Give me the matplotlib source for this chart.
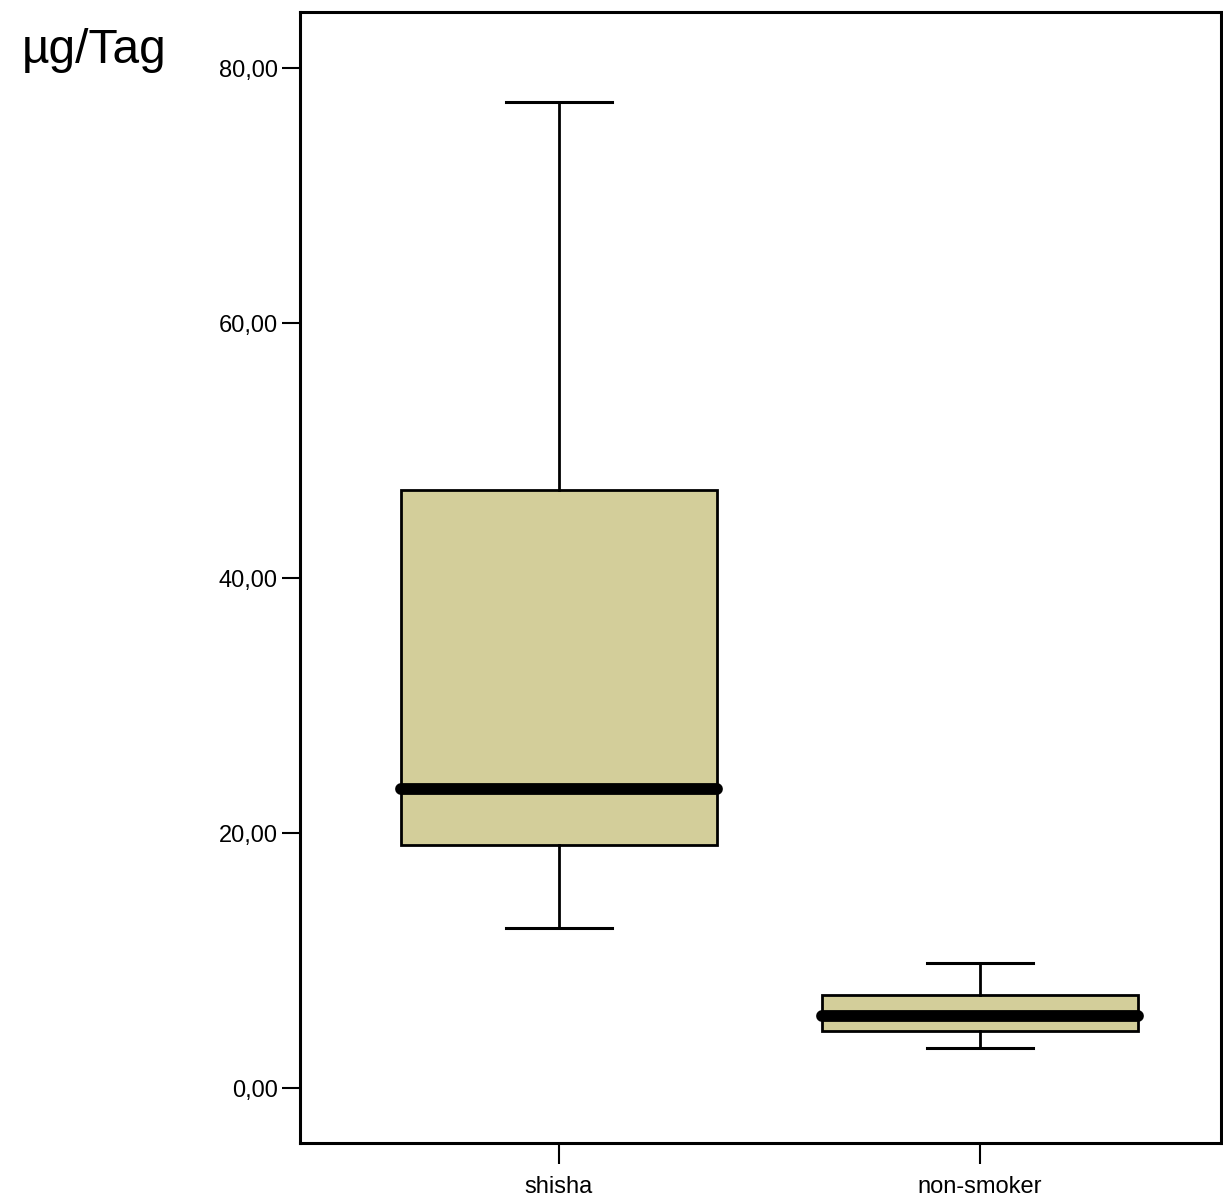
import matplotlib
matplotlib.use('Agg')
import matplotlib.pyplot as plt
from matplotlib import font_manager

# group values (µg/Tag)
groups = ['shisha', 'non-smoker']
whislo = [12.55, 3.15]
q1 = [19.05, 4.45]
med = [23.45, 5.65]
q3 = [46.95, 7.3]
whishi = [77.35, 9.8]
yticks = [0, 20, 40, 60, 80]

names = {f.name for f in font_manager.fontManager.ttflist}
narrow = 'Liberation Sans Narrow' if 'Liberation Sans Narrow' in names else 'Liberation Sans'

stats = []
for i, g in enumerate(groups):
    stats.append({'label': g, 'whislo': whislo[i], 'q1': q1[i], 'med': med[i],
                  'q3': q3[i], 'whishi': whishi[i], 'fliers': []})

fig = plt.figure(figsize=(12.23, 12.03), dpi=100)
ax = fig.add_axes([300/1223, 60/1203, 921/1223, 1131/1203])

ax.bxp(stats, positions=[1, 2], widths=0.75, patch_artist=True,
       boxprops=dict(facecolor='#d3ce9a', edgecolor='black', linewidth=2),
       medianprops=dict(color='black', linewidth=8.5, solid_capstyle='round'),
       whiskerprops=dict(color='black', linewidth=2),
       capprops=dict(color='black', linewidth=2.2),
       capwidths=0.25)

ax.set_xlim(0.385, 2.572)
ax.set_ylim(-4.3, 84.4)
ax.set_yticks(yticks)
ax.set_yticklabels(['%d,00' % v for v in yticks])
ax.set_xticks([1, 2])
ax.set_xticklabels(groups)

for s in ax.spines.values():
    s.set_linewidth(2.2)
ax.tick_params(axis='y', direction='out', length=13, width=1.5, pad=3)
ax.tick_params(axis='x', direction='out', length=15, width=1.5, pad=9)
fs = 19 if narrow != 'Liberation Sans' else 17
for lab in ax.get_yticklabels() + ax.get_xticklabels():
    lab.set_fontfamily(narrow)
    lab.set_fontsize(fs)

fig.text(22/1223, 1 - 63/1203, 'µg/Tag', fontsize=34.5, family='Liberation Sans',
         ha='left', va='baseline')

fig.savefig('out.png', dpi=100)
